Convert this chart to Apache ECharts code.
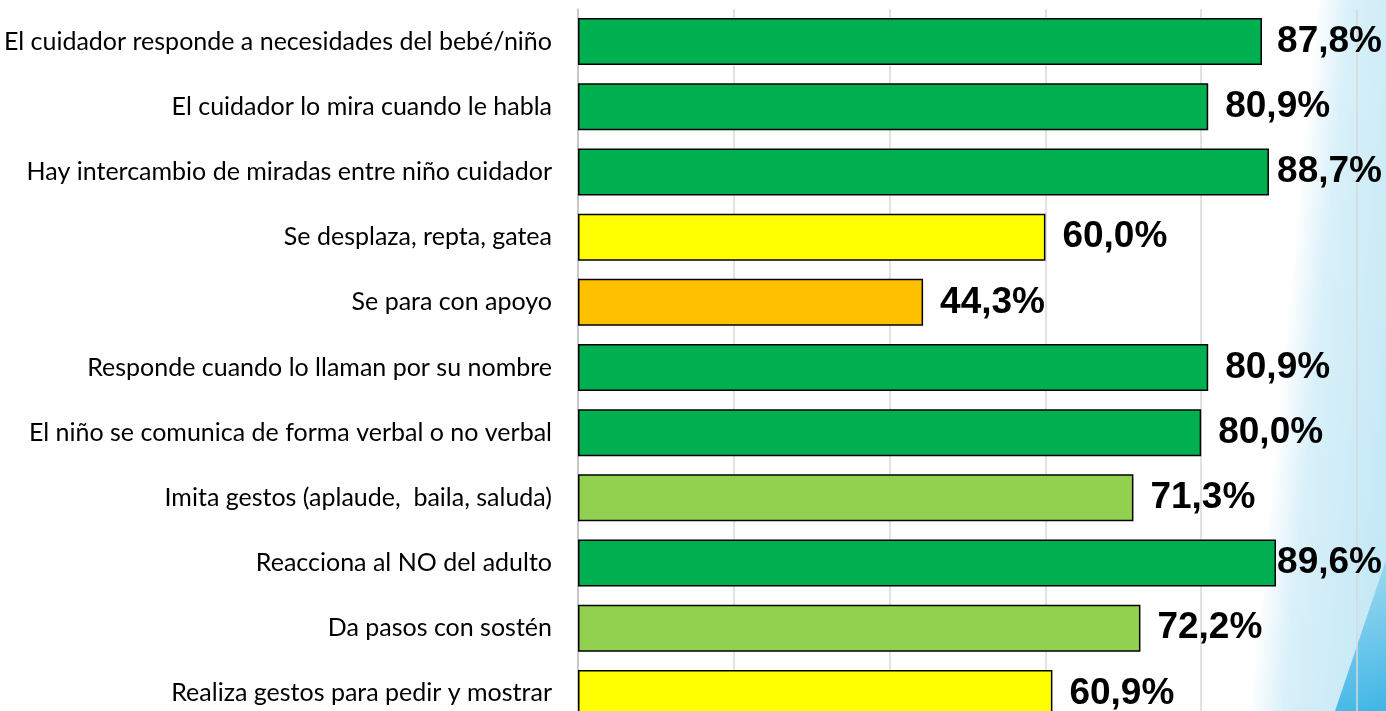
<!DOCTYPE html>
<html>
<head>
<meta charset="utf-8">
<script src="https://cdn.jsdelivr.net/npm/echarts@6/dist/echarts.min.js"></script>
<style>
  html, body { margin: 0; padding: 0; background: #fff; overflow: hidden; }
  /* el área del gráfico sigue por debajo del borde de la ventana */
  #chart { width: 1386px; height: 730px; }
</style>
</head>
<body>
<div id="chart"></div>
<script>
  // datos (de arriba hacia abajo)
  var categorias = [
    "El cuidador responde a necesidades del bebé/niño",
    "El cuidador lo mira cuando le habla",
    "Hay intercambio de miradas entre niño cuidador",
    "Se desplaza, repta, gatea",
    "Se para con apoyo",
    "Responde cuando lo llaman por su nombre",
    "El niño se comunica de forma verbal o no verbal",
    "Imita gestos (aplaude,  baila, saluda)",
    "Reacciona al NO del adulto",
    "Da pasos con sostén",
    "Realiza gestos para pedir y mostrar"
  ];
  var valores = [87.8, 80.9, 88.7, 60.0, 44.3, 80.9, 80.0, 71.3, 89.6, 72.2, 60.9];
  var colores = ["#00B050", "#00B050", "#00B050", "#FFFF00", "#FFC000", "#00B050",
                 "#00B050", "#92D050", "#00B050", "#92D050", "#FFFF00"];

  var chart = echarts.init(document.getElementById("chart"));

  var datos = valores.map(function (v, i) {
    return { value: v, itemStyle: { color: colores[i] } };
  });

  var option = {
    backgroundColor: "#ffffff",
    animation: false,
    graphic: [
      {
        // fondo azul decorativo de la diapositiva
        type: "rect",
        z: -10,
        silent: true,
        x: 1318,
        y: -10,
        rotation: -0.095,
        shape: { x: 0, y: 0, width: 220, height: 800 },
        style: {
          fill: new echarts.graphic.LinearGradient(0, 0, 1, 0, [
            { offset: 0, color: "rgba(214,238,248,0)" },
            { offset: 0.16, color: "#d8f0f9" },
            { offset: 0.5, color: "#c6e9f6" },
            { offset: 1, color: "#b8e3f4" }
          ])
        }
      },
      {
        type: "polygon",
        z: -9,
        silent: true,
        shape: { points: [[1386, 560], [1386, 711], [1335, 711]] },
        style: {
          fill: new echarts.graphic.LinearGradient(0, 0, 1, 1, [
            { offset: 0, color: "#a8dcf1" },
            { offset: 1, color: "#3fb6e6" }
          ])
        }
      }
    ],
    grid: {
      left: 578,
      top: 9,
      width: 779,
      height: 717,
      outerBoundsMode: "none"
    },
    xAxis: {
      type: "value",
      min: 0,
      max: 100,
      interval: 20,
      axisLabel: { show: false },
      axisLine: { show: false },
      axisTick: { show: false },
      splitLine: { show: true, lineStyle: { color: "#d9d9d9", width: 1.5 } }
    },
    yAxis: {
      type: "category",
      inverse: true,
      data: categorias,
      axisLine: { show: true, lineStyle: { color: "#bfbfbf", width: 1.5 } },
      axisTick: { show: false },
      axisLabel: {
        margin: 26,
        color: "#000",
        fontFamily: "Lato",
        fontSize: 25
      }
    },
    series: [
      {
        type: "bar",
        data: datos,
        barWidth: 47,
        itemStyle: { borderColor: "#000", borderWidth: 1.5 },
        label: {
          show: true,
          position: "right",
          distance: 17,
          color: "#000",
          fontFamily: "Liberation Sans",
          fontWeight: "bold",
          fontSize: 37,
          formatter: function (p) {
            return p.value.toFixed(1).replace(".", ",") + "%";
          }
        },
        // Excel empuja las etiquetas dentro del área del gráfico
        labelLayout: function (p) {
          var sobra = p.labelRect.x + p.labelRect.width - 1382;
          return sobra > 0 ? { dx: -sobra } : {};
        }
      }
    ]
  };

  chart.setOption(option);
</script>
</body>
</html>
